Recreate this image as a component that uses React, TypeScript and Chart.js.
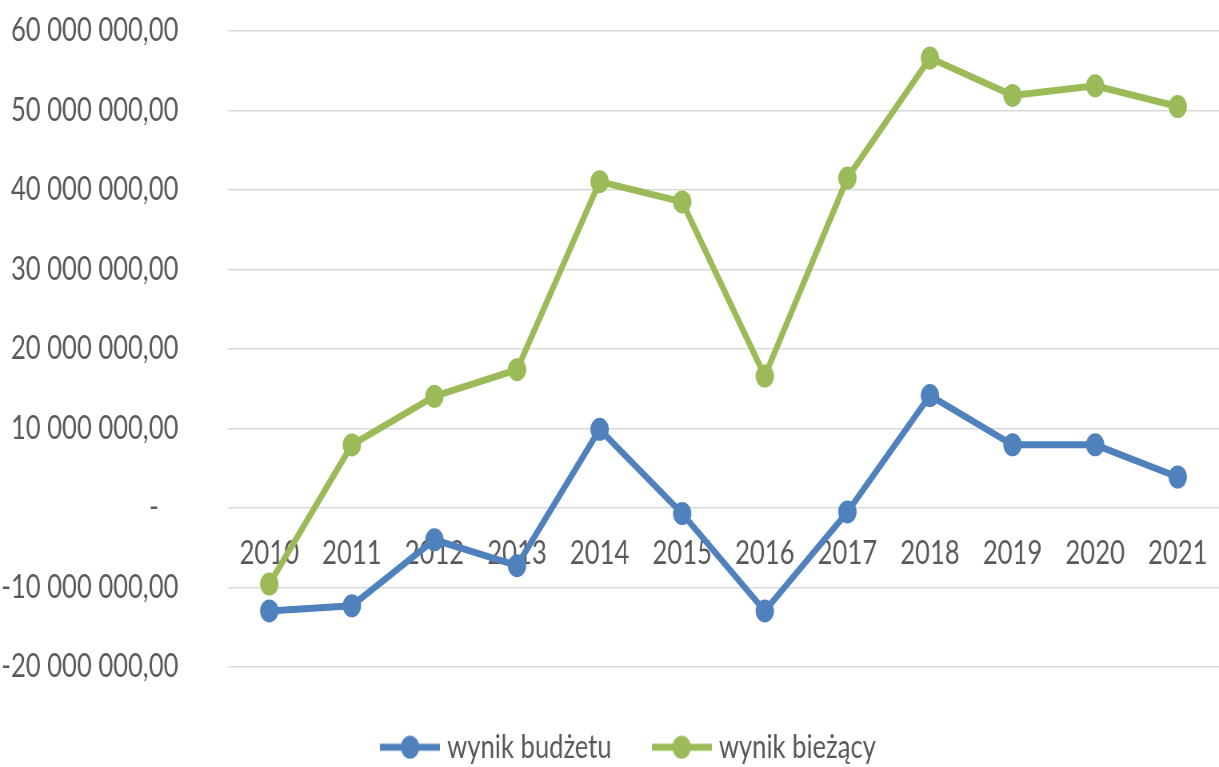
import React, { useEffect, useRef } from "react";
import { Chart, registerables } from "chart.js";

Chart.register(...registerables);

const categories = ["2010", "2011", "2012", "2013", "2014", "2015", "2016", "2017", "2018", "2019", "2020", "2021"];
const wynikBudzetu = [-12950000, -12300000, -4000000, -7250000, 9900000, -700000, -12950000, -500000, 14150000, 7950000, 7950000, 3900000];
const wynikBiezacy = [-9570000, 7940000, 14050000, 17400000, 41050000, 38500000, 16600000, 41500000, 56600000, 51900000, 53100000, 50500000];
const seriesNames = ["wynik budżetu", "wynik bieżący"];
const seriesColors = ["#4F81BD", "#9BBB59"];
const yMin = -20000000;
const yMax = 60000000;
const yStep = 10000000;

// The reference image is horizontally compressed; draw wide and squeeze.
const OUT_W = 1219;
const OUT_H = 767;
const SQUEEZE = 0.8;
const IN_W = Math.round(OUT_W / SQUEEZE);

const FONT = "Lato, 'Open Sans', 'Liberation Sans', sans-serif";
const FONT_SIZE = 32;
const TEXT_COLOR = "#595959";

function formatTick(v: number): string {
  if (v === 0) return "-   ";
  const neg = v < 0;
  const s = Math.abs(Math.round(v)).toString().replace(/\B(?=(\d{3})+(?!\d))/g, " ");
  return (neg ? "-" : "") + s + ",00";
}

function legendIcon(color: string): HTMLCanvasElement {
  const c = document.createElement("canvas");
  c.width = 75;
  c.height = 24;
  const ctx = c.getContext("2d")!;
  ctx.strokeStyle = color;
  ctx.lineWidth = 7;
  ctx.beginPath();
  ctx.moveTo(0, 12);
  ctx.lineTo(75, 12);
  ctx.stroke();
  ctx.fillStyle = color;
  ctx.beginPath();
  ctx.arc(37.5, 12, 11.5, 0, Math.PI * 2);
  ctx.fill();
  return c;
}

const unclipPlugin = {
  id: "unclipY",
  afterLayout(chart: any) {
    if (chart.scales.y) chart.scales.y.left = 0;
  },
};

export default function App() {
  const ref = useRef<HTMLCanvasElement | null>(null);

  useEffect(() => {
    if (!ref.current) return;
    const icons = seriesColors.map((c) => legendIcon(c));
    const datasets = [wynikBudzetu, wynikBiezacy].map((d, i) => ({
      label: seriesNames[i],
      data: d,
      borderColor: seriesColors[i],
      backgroundColor: seriesColors[i],
      pointBackgroundColor: seriesColors[i],
      pointBorderColor: seriesColors[i],
      borderWidth: 7,
      pointRadius: 11.5,
      pointBorderWidth: 0,
      tension: 0,
      fill: false,
    }));
    const chart = new Chart(ref.current, {
      type: "line",
      data: { labels: categories, datasets },
      plugins: [unclipPlugin],
      options: {
        animation: false,
        responsive: false,
        layout: { autoPadding: false, padding: { left: 53, right: 0, top: 31, bottom: 0 } },
        scales: {
          x: {
            type: "category",
            position: { y: 0 } as any,
            offset: true,
            grid: { display: true, color: "rgba(0,0,0,0)", tickColor: "rgba(0,0,0,0)", drawTicks: true, tickLength: 26 },
            border: { display: false },
            ticks: {
              color: TEXT_COLOR,
              font: { family: FONT, size: FONT_SIZE },
              padding: 0,
              maxRotation: 0,
              autoSkip: false,
            },
          },
          y: {
            min: yMin,
            max: yMax,
            grid: { color: "#d9d9d9", lineWidth: 1.5, drawTicks: true, tickLength: 62, tickColor: "rgba(0,0,0,0)" },
            border: { display: false },
            ticks: {
              stepSize: yStep,
              color: TEXT_COLOR,
              font: { family: FONT, size: FONT_SIZE },
              padding: 0,
              callback: (v: any) => formatTick(Number(v)),
            },
            afterFit: (scale: any) => {
              scale.width = 232;
            },
          },
        },
        plugins: {
          tooltip: { enabled: false },
          legend: {
            position: "bottom",
            maxHeight: 100,
            title: { display: true, text: "", font: { size: 1 }, padding: { top: 6, bottom: 0 } },
            labels: {
              usePointStyle: true,
              pointStyleWidth: 61,
              padding: 57,
              color: TEXT_COLOR,
              font: { family: FONT, size: FONT_SIZE },
              generateLabels: (ch: any) =>
                Chart.defaults.plugins.legend.labels.generateLabels(ch).map((l: any) => ({
                  ...l,
                  pointStyle: icons[l.datasetIndex],
                  fontColor: TEXT_COLOR,
                })),
            },
          },
        },
      },
    });
    return () => chart.destroy();
  }, []);

  return (
    <div style={{ position: "absolute", left: 0, top: 0, width: OUT_W, height: OUT_H, overflow: "hidden", background: "#fff" }}>
      <div style={{ width: IN_W, height: OUT_H, transform: `scaleX(${OUT_W / IN_W})`, transformOrigin: "0 0" }}>
        <canvas ref={ref} width={IN_W} height={OUT_H} style={{ display: "block" }} />
      </div>
    </div>
  );
}
